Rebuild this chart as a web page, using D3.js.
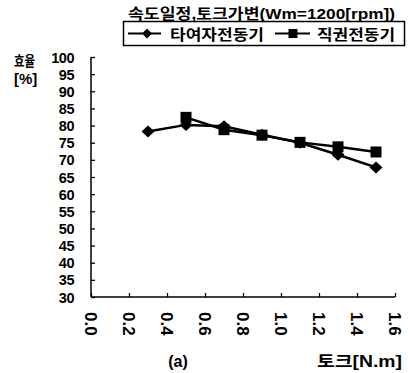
<!DOCTYPE html>
<html><head><meta charset="utf-8">
<script src="https://cdn.jsdelivr.net/npm/d3@7"></script>
<style>
body{margin:0;background:#fff;}
text{font-family:"Liberation Sans","Noto Sans CJK KR",sans-serif;font-weight:bold;fill:#000;}
</style></head>
<body><svg id="c" width="408" height="373"></svg>
<script>
const torque = [0.3, 0.5, 0.7, 0.9, 1.1, 1.3, 1.5];
const seriesNames = ["타여자전동기", "직권전동기"];
const sepExcited = [78.3, 80.2, 79.8, 77.3, 75.0, 71.5, 67.8];
const seriesWound = [null, 82.4, 78.8, 77.2, 75.1, 73.8, 72.3];
const xTicks = [0.0, 0.2, 0.4, 0.6, 0.8, 1.0, 1.2, 1.4, 1.6];
const yTicks = [30, 35, 40, 45, 50, 55, 60, 65, 70, 75, 80, 85, 90, 95, 100];

const svg = d3.select("#c");
const x = d3.scaleLinear().domain([0, 1.6]).range([91, 395]);
const y = d3.scaleLinear().domain([30, 100]).range([297, 57]);

const diamond = (w, h) => `M0,${-h}L${w},0L0,${h}L${-w},0Z`;
const square = s => `M${-s},${-s}H${s}V${s}H${-s}Z`;
const markerPath = [diamond(6.5, 6), square(5.5)];
const legendMarker = [diamond(5, 5), square(4.5)];

// Title
svg.append("text").attr("x", 128).attr("y", 19)
  .attr("textLength", 267).attr("lengthAdjust", "spacingAndGlyphs")
  .style("font-size", "15px").text("속도일정,토크가변(Wm=1200[rpm])");

// Legend box
svg.append("rect").attr("x", 123.5).attr("y", 21.5).attr("width", 281).attr("height", 24)
  .attr("fill", "none").attr("stroke", "#000").attr("stroke-width", 1.5);

const legendItems = [{lx: 128, lw: 33, mx: 147, tx: 170, tw: 94}, {lx: 275, lw: 35, mx: 293, tx: 317, tw: 78}];
legendItems.forEach((it, i) => {
  svg.append("line").attr("x1", it.lx).attr("x2", it.lx + it.lw).attr("y1", 33.5).attr("y2", 33.5)
    .attr("stroke", "#000").attr("stroke-width", 2);
  svg.append("path").attr("d", legendMarker[i]).attr("transform", `translate(${it.mx},33.5)`);
  svg.append("text").attr("x", it.tx).attr("y", 39.5)
    .attr("textLength", it.tw).attr("lengthAdjust", "spacingAndGlyphs")
    .style("font-size", "15px").text(seriesNames[i]);
});

// Axes
const yAxis = d3.axisRight(y).tickValues(yTicks).tickSize(4).tickFormat("");
const gy = svg.append("g").attr("transform", "translate(91,0)").call(yAxis);
const xAxis = d3.axisTop(x).tickValues(xTicks).tickSize(4).tickFormat("");
const gx = svg.append("g").attr("transform", "translate(0,297)").call(xAxis);
[gy, gx].forEach(g => {
  g.select(".domain").attr("stroke", "#000").attr("stroke-width", 1.5);
  g.selectAll(".tick line").attr("stroke", "#000").attr("stroke-width", 1.3);
});
gy.select(".domain").attr("d", "M0,57V297");
gx.select(".domain").attr("d", "M91,0H395");

// Y tick labels
svg.selectAll(".ylab").data(yTicks).enter().append("text")
  .attr("x", 74).attr("y", d => y(d) + 5.5).attr("text-anchor", "end")
  .style("font-size", "14.5px").style("letter-spacing", "-0.5px").text(d => d);

// X tick labels rotated
svg.selectAll(".xlab").data(xTicks).enter().append("text")
  .attr("transform", d => `translate(${x(d) - 6},312) rotate(90)`)
  .attr("text-anchor", "start")
  .style("font-size", "17px").text(d => d.toFixed(1));

// Axis labels
svg.append("text").attr("x", 14).attr("y", 66).attr("textLength", 21).attr("lengthAdjust", "spacingAndGlyphs")
  .style("font-size", "14px").text("효율");
svg.append("text").attr("x", 14).attr("y", 84).style("font-size", "15px").text("[%]");
svg.append("text").attr("x", 178).attr("y", 367).attr("text-anchor", "middle").style("font-size", "16px").text("(a)");
svg.append("text").attr("x", 317).attr("y", 367).attr("textLength", 85).attr("lengthAdjust", "spacingAndGlyphs")
  .style("font-size", "16px").text("토크[N.m]");

// Series
const allSeries = [sepExcited, seriesWound];
const line = d3.line().defined(d => d[1] != null).x(d => x(d[0])).y(d => y(d[1]));
allSeries.forEach((vals, i) => {
  const pts = torque.map((t, j) => [t, vals[j]]);
  svg.append("path").datum(pts).attr("d", line).attr("fill", "none")
    .attr("stroke", "#000").attr("stroke-width", 2.5);
  svg.selectAll(".m" + i).data(pts.filter(d => d[1] != null)).enter().append("path")
    .attr("d", markerPath[i]).attr("transform", d => `translate(${x(d[0])},${y(d[1])})`).attr("fill", "#000");
});
</script></body></html>
